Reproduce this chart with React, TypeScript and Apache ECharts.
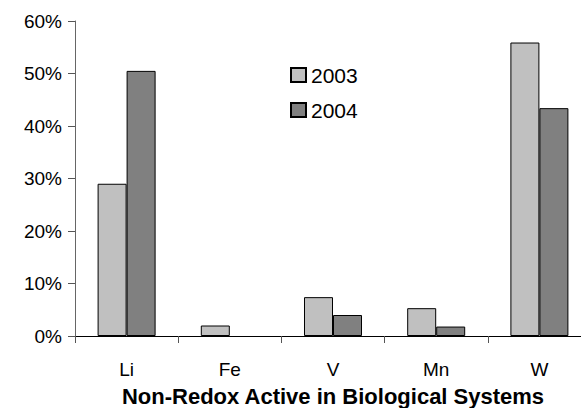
import React, { useEffect, useRef } from "react";
import * as echarts from "echarts";

const categories = ["Li", "Fe", "V", "Mn", "W"];
const values2003 = [29.0, 2.0, 7.4, 5.3, 55.9];
const values2004 = [50.5, null, 4.0, 1.8, 43.4];
const seriesNames = ["2003", "2004"];
const xTitle = "Non-Redox Active in Biological Systems";

export default function App() {
  const ref = useRef<HTMLDivElement>(null);
  useEffect(() => {
    if (!ref.current) return;
    const chart = echarts.init(ref.current, undefined, { renderer: "svg" });
    const font = "'Liberation Sans', Arial, sans-serif";
    chart.setOption({
      animation: false,
      backgroundColor: "#ffffff",
      textStyle: { fontFamily: font },
      grid: { left: 75, top: 21, bottom: 72, right: -10, containLabel: false, outerBoundsMode: "none" },
      legend: {
        orient: "vertical",
        left: 290,
        top: 64,
        padding: 0,
        itemWidth: 15,
        itemHeight: 14,
        itemGap: 13,
        icon: "rect",
        textStyle: { fontSize: 21, lineHeight: 22, color: "#000", fontFamily: font },
        data: seriesNames,
      },
      xAxis: {
        type: "category",
        data: categories,
        name: xTitle,
        nameLocation: "middle",
        nameGap: 49,
        nameTextStyle: { fontSize: 22, lineHeight: 22, fontWeight: "bold", color: "#000", fontFamily: font },
        axisLine: { lineStyle: { color: "#000", width: 1 } },
        axisTick: { show: true, length: 7, lineStyle: { color: "#555" } },
        axisLabel: { fontSize: 19, color: "#000", margin: 24, fontFamily: font },
      },
      yAxis: {
        type: "value",
        min: 0,
        max: 60,
        interval: 10,
        splitLine: { show: false },
        axisLine: { show: true, lineStyle: { color: "#666", width: 1 } },
        axisTick: { show: true, length: 7, lineStyle: { color: "#555" } },
        axisLabel: { fontSize: 19, color: "#000", margin: 13, formatter: "{value}%", fontFamily: font },
      },
      series: [
        {
          name: seriesNames[0],
          type: "bar",
          data: values2003,
          barWidth: 29,
          barGap: "0%",
          itemStyle: { color: "#c0c0c0", borderColor: "#000", borderWidth: 1 },
        },
        {
          name: seriesNames[1],
          type: "bar",
          data: values2004,
          barWidth: 29,
          barGap: "0%",
          itemStyle: { color: "#808080", borderColor: "#000", borderWidth: 1 },
        },
      ],
    });
    return () => chart.dispose();
  }, []);
  return <div ref={ref} style={{ width: 581, height: 408, position: "absolute", left: 0, top: 0 }} />;
}
